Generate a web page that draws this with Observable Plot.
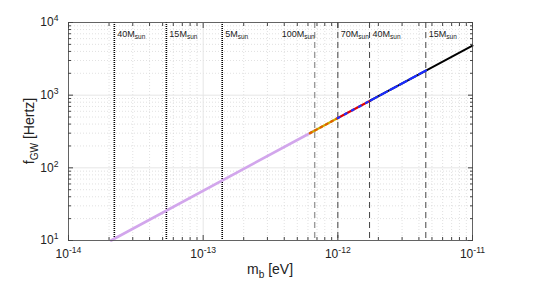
<!DOCTYPE html>
<html><head><meta charset="utf-8">
<script src="https://cdn.jsdelivr.net/npm/d3@7"></script>
<script src="https://cdn.jsdelivr.net/npm/@observablehq/plot@0.6"></script>
<style>
body{margin:0;background:#fff}
svg{font-family:"Liberation Sans",Arial,Helvetica,sans-serif}
</style>
</head><body><div id="chart"></div>
<script>
// ---- tick labels ----
const xMajor = [1e-14, 1e-13, 1e-12, 1e-11];
const xTickLabels = ["10^{-14}", "10^{-13}", "10^{-12}", "10^{-11}"];
const yMajor = [10, 100, 1000, 10000];
const yTickLabels = ["10^{1}", "10^{2}", "10^{3}", "10^{4}"];
const minorSteps = [2, 3, 4, 5, 6, 7, 8, 9];

// ---- vertical marker lines (boson mass for BH mass) ----
const dottedMasses = ["40", "15", "5"];
const dottedPos = [2.19e-14, 5.33e-14, 1.385e-13];
const dashedMasses = ["100", "70", "40", "15"];
const dashedPos = [6.73e-13, 1.0e-12, 1.72e-12, 4.5e-12];

const purpleM = [2.07e-14, 6.7e-13], purpleF = [10, 324];
const yellowM = [6.2e-13, 1.0e-12], yellowF = [300, 484];
const redM = [1.0e-12, 1.75e-12], redF = [484, 847];
const blueM = [1.75e-12, 4.6e-12], blueF = [847, 2225];
const blackM = [1.75e-12, 1e-11], blackF = [847, 4800];

const tbl = (M, F) => M.map((m, i) => ({m, f: F[i]}));
const minorOf = (maj) => maj.slice(0, -1).flatMap(d => minorSteps.map(s => d * s));
const xMinor = minorOf(xMajor);
const yMinor = minorOf(yMajor);

const W = 545, H = 283;
const plot = Plot.plot({
  width: W, height: H,
  marginLeft: 68, marginRight: 73, marginTop: 22, marginBottom: 43,
  style: {fontFamily: '"Liberation Sans",Arial,sans-serif', fontSize: "12px", background: "#fff"},
  x: {type: "log", domain: [1e-14, 1e-11]},
  y: {type: "log", domain: [10, 1e4]},
  marks: [
    // grid
    Plot.ruleX(xMinor, {stroke: "#d4d4d4", strokeDasharray: "1,2", strokeWidth: 0.7}),
    Plot.ruleY(yMinor, {stroke: "#d4d4d4", strokeDasharray: "1,2", strokeWidth: 0.7}),
    Plot.ruleX(xMajor, {stroke: "#e6e6e6", strokeWidth: 1}),
    Plot.ruleY(yMajor, {stroke: "#e6e6e6", strokeWidth: 1}),
    // marker lines
    Plot.ruleX(dottedPos, {stroke: "#000", strokeDasharray: "1,1", strokeWidth: 1.6}),
    Plot.ruleX(dashedPos.slice(0, 1), {stroke: "#9a9a9a", strokeDasharray: "6,4", strokeWidth: 1.4}),
    Plot.ruleX(dashedPos.slice(1), {stroke: "#444", strokeDasharray: "6,4", strokeWidth: 1}),
    // series
    Plot.line(tbl(purpleM, purpleF), {x: "m", y: "f", stroke: "#d2a6ec", strokeWidth: 2.6}),
    Plot.line(tbl(yellowM, yellowF), {x: "m", y: "f", stroke: "#c9b400", strokeWidth: 2.2}),
    Plot.line(tbl(yellowM, yellowF), {x: "m", y: "f", stroke: "#e06000", strokeWidth: 2.2, strokeDasharray: "2,4"}),
    Plot.line(tbl(redM, redF), {x: "m", y: "f", stroke: "#e00000", strokeWidth: 2.2}),
    Plot.line(tbl(redM, redF), {x: "m", y: "f", stroke: "#2030ff", strokeWidth: 2.2, strokeDasharray: "2,6"}),
    Plot.line(tbl(blackM, blackF), {x: "m", y: "f", stroke: "#000", strokeWidth: 2}),
    Plot.line(tbl(blueM, blueF), {x: "m", y: "f", stroke: "#1a2cff", strokeWidth: 2.2, strokeDasharray: "8,3"}),
    // marker labels
    Plot.text(dottedPos.map((m, i) => ({m, t: dottedMasses[i] + "M_{sun}"})),
      {x: "m", text: "t", frameAnchor: "top", dy: 14, dx: 3, textAnchor: "start", lineAnchor: "bottom", fontSize: 9, fill: "#222"}),
    Plot.text(dashedPos.slice(0, 1).map((m, i) => ({m, t: dashedMasses[i] + "M_{sun}"})),
      {x: "m", text: "t", frameAnchor: "top", dy: 14, dx: 0, textAnchor: "end", lineAnchor: "bottom", fontSize: 9, fill: "#222"}),
    Plot.text(dashedPos.slice(1).map((m, i) => ({m, t: dashedMasses[i + 1] + "M_{sun}"})),
      {x: "m", text: "t", frameAnchor: "top", dy: 14, dx: 3, textAnchor: "start", lineAnchor: "bottom", fontSize: 9, fill: "#222"}),
    // frame and axes (inward ticks)
    Plot.frame({stroke: "#444", strokeWidth: 0.8}),
    Plot.axisX(xMajor, {anchor: "bottom", tickSize: 5, insetBottom: 5, tickPadding: 9, label: null, stroke: "#444",
      tickFormat: d => xTickLabels[xMajor.indexOf(d)], fill: "#222"}),
    Plot.axisX(xMinor, {anchor: "bottom", tickSize: 3, insetBottom: 3, label: null, stroke: "#444", tickFormat: () => ""}),
    Plot.axisX(xMajor, {anchor: "top", tickSize: 5, insetTop: 5, label: null, stroke: "#444", tickFormat: () => ""}),
    Plot.axisX(xMinor, {anchor: "top", tickSize: 3, insetTop: 3, label: null, stroke: "#444", tickFormat: () => ""}),
    Plot.axisY(yMajor, {anchor: "left", tickSize: 5, insetLeft: 5, tickPadding: 10, label: null, stroke: "#444",
      tickFormat: d => yTickLabels[yMajor.indexOf(d)], fill: "#222"}),
    Plot.axisY(yMinor, {anchor: "left", tickSize: 3, insetLeft: 3, label: null, stroke: "#444", tickFormat: () => ""}),
    Plot.axisY(yMajor, {anchor: "right", tickSize: 5, insetRight: 5, label: null, stroke: "#444", tickFormat: () => ""}),
    Plot.axisY(yMinor, {anchor: "right", tickSize: 3, insetRight: 3, label: null, stroke: "#444", tickFormat: () => ""})
  ]
});

const svg = d3.select(plot);
// axis titles
svg.append("text").attr("x", 270).attr("y", 274).attr("text-anchor", "middle")
  .attr("font-size", 14).attr("fill", "#222").text("m_{b} [eV]");
svg.append("text").attr("transform", "translate(34,131) rotate(-90)").attr("text-anchor", "middle")
  .attr("font-size", 14).attr("fill", "#222").text("f_{GW} [Hertz]");

// turn ^{..} / _{..} into superscripts / subscripts
function richify(el) {
  const s = el.textContent;
  if (!/[\^_]\{/.test(s)) return;
  const fs = parseFloat(getComputedStyle(el).fontSize) || 12;
  const parts = [];
  const re = /([\^_])\{([^}]*)\}/g;
  let last = 0, m;
  while ((m = re.exec(s))) {
    if (m.index > last) parts.push({t: s.slice(last, m.index), k: ""});
    parts.push({t: m[2], k: m[1]});
    last = re.lastIndex;
  }
  if (last < s.length) parts.push({t: s.slice(last), k: ""});
  el.textContent = "";
  let shift = 0;
  for (const p of parts) {
    const ts = document.createElementNS("http://www.w3.org/2000/svg", "tspan");
    const target = p.k === "^" ? -0.42 * fs : p.k === "_" ? 0.32 * fs : 0;
    const dy = target - shift;
    if (dy !== 0) ts.setAttribute("dy", dy);
    shift = target;
    if (p.k) ts.setAttribute("font-size", (0.72 * fs).toFixed(1));
    ts.textContent = p.t;
    el.appendChild(ts);
  }
}
document.getElementById("chart").appendChild(plot);
plot.querySelectorAll("text").forEach(richify);
</script>
</body></html>
